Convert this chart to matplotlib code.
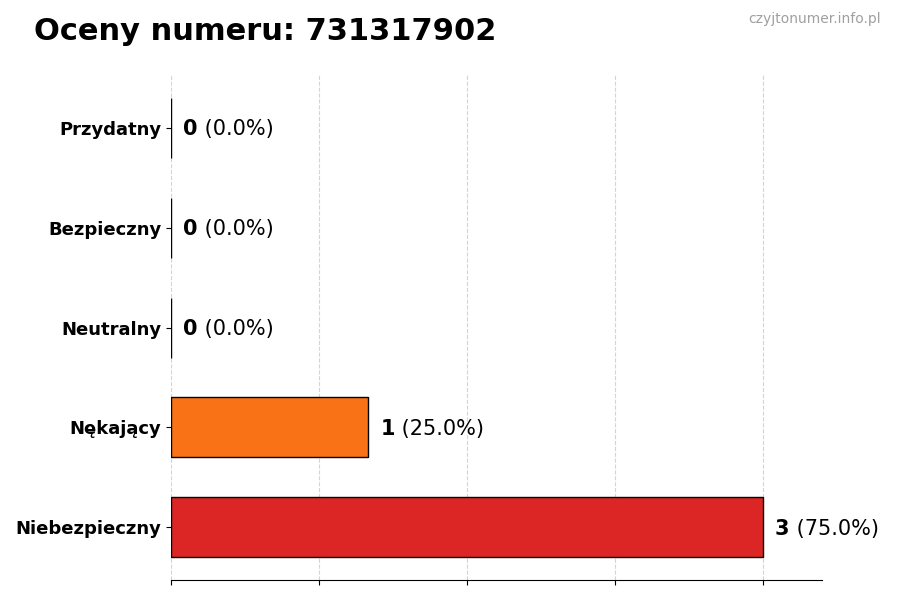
import matplotlib.pyplot as plt

# ratings for number 731317902
categories = ["Niebezpieczny", "Nękający", "Neutralny", "Bezpieczny", "Przydatny"]
counts = [3, 1, 0, 0, 0]
colors = ["#dc2626", "#f97316", "#9ca3af", "#22c55e", "#3b82f6"]
xticks = [0, 0.75, 1.5, 2.25, 3]

total = sum(counts)

fig = plt.figure(figsize=(9, 6), dpi=100)
ax = fig.add_axes([0.19, 0.033, 0.723, 0.842])

ax.barh(categories, counts, height=0.6, color=colors, edgecolor="black", linewidth=1, zorder=3)
ax.set_xlim(0, max(counts) * 1.1)
ax.set_xticks(xticks)
ax.set_xticklabels([])
ax.grid(axis="x", linestyle="--", color="#d4d4d4", linewidth=0.8, zorder=0)

for s in ["top", "right", "left"]:
    ax.spines[s].set_visible(False)

for lbl in ax.get_yticklabels():
    lbl.set_fontweight("bold")
    lbl.set_fontsize(13)

for i, c in enumerate(counts):
    pct = c / total * 100
    t1 = ax.annotate(str(c), xy=(c, i), xytext=(9, -1), textcoords="offset points",
                     va="center", ha="left", fontsize=15, fontweight="bold")
    ax.annotate(f" ({pct:.1f}%)", xy=(1, 0.5), xycoords=t1, va="center", ha="left", fontsize=15)

fig.text(0.038, 0.947, "Oceny numeru: 731317902", fontsize=22, fontweight="bold", va="center", ha="left")
fig.text(0.979, 0.969, "czyjtonumer.info.pl", fontsize=10, color="#a0a0a0", va="center", ha="right")

fig.savefig("out.png", dpi=100)
